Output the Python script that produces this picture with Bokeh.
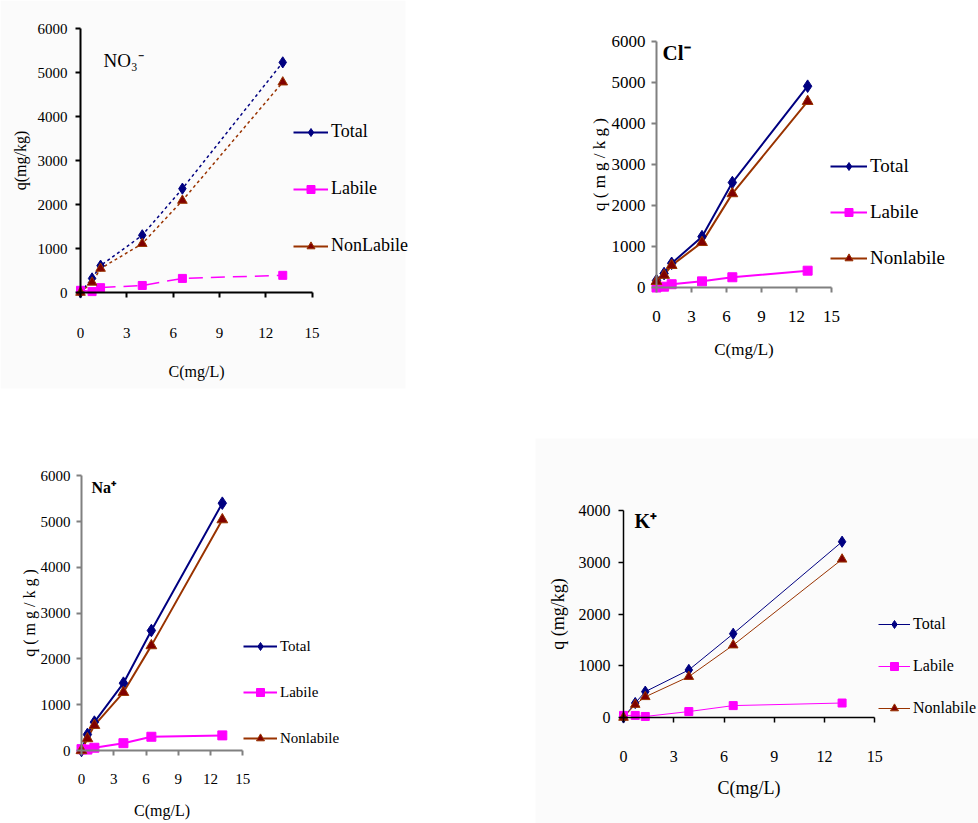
from bokeh.plotting import figure
from bokeh.models import (Range1d, FixedTicker, Legend, LegendItem, Label, BoxAnnotation)
from bokeh.layouts import column, row
from bokeh.embed import file_html
from bokeh.resources import INLINE

# ---------------- data ----------------
series_names = ["Total", "Labile", "Nonlabile"]
x_ticks = [0, 3, 6, 9, 12, 15]

no3_c = [0, 0.75, 1.3, 4.0, 6.6, 13.1]
no3_total = [0, 320, 610, 1300, 2360, 5230]
no3_labile = [50, 20, 110, 160, 320, 390]
no3_nonlabile = [0, 230, 545, 1110, 2090, 4780]
no3_legend = ["Total", "Labile", "NonLabile"]

cl_c = [0, 0.65, 1.3, 3.9, 6.5, 12.95]
cl_total = [170, 340, 590, 1240, 2560, 4910]
cl_labile = [0, 20, 80, 150, 250, 410]
cl_nonlabile = [150, 300, 540, 1100, 2290, 4540]

na_c = [0, 0.55, 1.2, 3.9, 6.5, 13.1]
na_total = [0, 350, 620, 1470, 2620, 5400]
na_labile = [30, 20, 60, 160, 300, 330]
na_nonlabile = [0, 260, 550, 1270, 2290, 5040]

k_c = [0, 0.7, 1.3, 3.9, 6.55, 13.05]
k_total = [0, 280, 500, 920, 1620, 3400]
k_labile = [40, 40, 20, 115, 230, 280]
k_nonlabile = [0, 250, 400, 790, 1400, 3060]

C_TOTAL = "#000080"
C_LABILE = "#FF00FF"
C_NONLAB = "#993300"
C_NONLAB_FILL = "#800000"
FONT = "Liberation Serif"


def panel(box, x0px, kx, y0py, ky, ymax, c, tot, lab, non, names, cfg):
    L, T, W, H = box
    xs = -(x0px - L) / kx
    xe = xs + W / kx
    ye = (y0py - T) / ky
    ys = ye - H / ky
    p = figure(width=W, height=H, output_backend="svg", toolbar_location=None,
               x_range=Range1d(xs, xe), y_range=Range1d(ys, ye),
               min_border=0, min_border_left=0, min_border_right=0,
               min_border_top=0, min_border_bottom=0)
    p.outline_line_color = None
    p.grid.visible = False
    p.background_fill_color = "white"
    p.border_fill_color = "white"
    if "bg" in cfg:
        bl, bt, br, bb = cfg["bg"]
        p.add_layout(BoxAnnotation(left=bl - L, right=br - L,
                                   bottom=(T + H) - bb, top=(T + H) - bt,
                                   left_units="screen", right_units="screen",
                                   top_units="screen", bottom_units="screen",
                                   fill_color="#fbfbfb", fill_alpha=1,
                                   line_color=None, level="underlay"))

    xa = p.xaxis[0]
    ya = p.yaxis[0]
    xa.fixed_location = 0
    ya.fixed_location = 0
    xa.bounds = (0, 15)
    ya.bounds = (0, ymax)
    xa.ticker = FixedTicker(ticks=x_ticks)
    ya.ticker = FixedTicker(ticks=list(range(0, ymax + 1, 1000)))
    for a in (xa, ya):
        a.axis_line_color = cfg["axis_color"]
        a.axis_line_width = cfg["axis_w"]
        a.major_tick_line_color = cfg["axis_color"]
        a.major_tick_line_width = cfg["axis_w"]
        a.major_tick_out = 5
        a.major_tick_in = 0
        a.minor_tick_out = 0
        a.minor_tick_in = 0
        a.major_label_text_font = FONT
        a.major_label_text_font_size = cfg["tick_fs"]
        a.major_label_text_color = "black"
        a.axis_label_text_font = FONT
        a.axis_label_text_font_style = "normal"
        a.axis_label_text_font_size = cfg["lab_fs"]
        a.axis_label_text_color = "black"
    xa.major_label_standoff = cfg["xstand"]
    ya.major_label_standoff = cfg["ystand"]
    xa.axis_label = "C(mg/L)"
    ya.axis_label = cfg["ylabel"]
    xa.axis_label_standoff = cfg["xlab_stand"]
    ya.axis_label_standoff = cfg["ylab_stand"]

    lw = cfg["lw"]
    ms = cfg["ms"]
    dash_t = cfg.get("dash_t", "solid")
    dash_l = cfg.get("dash_l", "solid")
    l1 = p.line(c, tot, line_color=C_TOTAL, line_width=lw, line_dash=dash_t)
    l2 = p.line(c, lab, line_color=C_LABILE, line_width=lw, line_dash=dash_l)
    l3 = p.line(c, non, line_color=C_NONLAB, line_width=lw, line_dash=dash_t)
    m1 = p.scatter(c, tot, marker="diamond", size=ms * 1.4, fill_color=C_TOTAL,
                   line_color=C_TOTAL)
    m2 = p.scatter(c, lab, marker="square", size=ms * 1.0, fill_color=C_LABILE,
                   line_color=C_LABILE)
    m3 = p.scatter(c, non, marker="triangle", size=ms * 1.2, fill_color=C_NONLAB_FILL,
                   line_color=C_NONLAB)
    if dash_t != "solid" or dash_l != "solid":
        # single-point solid lines: invisible in the plot, solid in the legend
        g1 = p.line(c[:1], tot[:1], line_color=C_TOTAL, line_width=lw + 0.5)
        g2 = p.line(c[:1], lab[:1], line_color=C_LABILE, line_width=lw + 0.5)
        g3 = p.line(c[:1], non[:1], line_color=C_NONLAB, line_width=lw + 0.5)
    else:
        g1, g2, g3 = l1, l2, l3

    leg = Legend(items=[LegendItem(label=names[0], renderers=[g1, m1]),
                        LegendItem(label=names[1], renderers=[g2, m2]),
                        LegendItem(label=names[2], renderers=[g3, m3])])
    lx0, ltop, lrow, gw = cfg["legend"]
    leg.glyph_width = gw
    leg.glyph_height = 20
    leg.label_height = 20
    leg.label_standoff = 3
    leg.spacing = int(round(lrow - 20))
    leg.padding = 0
    leg.margin = 0
    leg.border_line_color = None
    leg.background_fill_alpha = 0
    leg.label_text_font = FONT
    leg.label_text_font_size = cfg["leg_fs"]
    leg.label_text_color = "black"
    leg_h = 3 * 20 + 2 * leg.spacing
    leg.location = (lx0 - L, (T + H) - (ltop - 10 + leg_h))
    p.add_layout(leg, "center")

    tx, ty, ttext, tfs, tstyle = cfg["title"]
    p.add_layout(Label(x=tx - L, y=(T + H) - ty, x_units="screen", y_units="screen",
                       text=ttext, text_font=FONT, text_font_size=tfs,
                       text_font_style=tstyle, text_baseline="middle",
                       text_color="black"))
    return p


p1 = panel((0, 0, 480, 430), 80, 15.44, 292, 0.044, 6000,
           no3_c, no3_total, no3_labile, no3_nonlabile, no3_legend,
           dict(axis_color="black", axis_w=2, tick_fs="15px", lab_fs="16px",
                xstand=30, ystand=8, ylabel="q(mg/kg)", xlab_stand=22, ylab_stand=6,
                lw=1.5, ms=8, dash_t="3 3", dash_l="14 8",
                legend=(293, 134, 56, 35), leg_fs="18px",
                title=(103, 60, "NO\u2083\u207b", "19px", "normal"),
                bg=(0, 0, 405, 388)))

p2 = panel((480, 0, 498, 430), 656, 11.67, 287, 0.041, 6000,
           cl_c, cl_total, cl_labile, cl_nonlabile, series_names,
           dict(axis_color="#808080", axis_w=2, tick_fs="17px", lab_fs="17px",
                xstand=18, ystand=6, ylabel="q ( m g / k g )", xlab_stand=15, ylab_stand=0,
                lw=2, ms=9, legend=(830, 171, 43.5, 37), leg_fs="19px",
                title=(662, 52, "Cl\u207b", "21px", "bold")))

p3 = panel((0, 430, 480, 393), 81, 10.75, 750, 0.0458, 6000,
           na_c, na_total, na_labile, na_nonlabile, series_names,
           dict(axis_color="#808080", axis_w=2, tick_fs="15px", lab_fs="16px",
                xstand=18, ystand=6, ylabel="q ( m g / k g )", xlab_stand=15, ylab_stand=0,
                lw=2, ms=9, legend=(243, 646, 46.5, 34), leg_fs="15px",
                title=(91, 487, "Na\u207a", "16px", "bold")))

p4 = panel((480, 430, 498, 393), 623, 16.75, 717, 0.0517, 4000,
           k_c, k_total, k_labile, k_nonlabile, series_names,
           dict(axis_color="black", axis_w=1.5, tick_fs="16px", lab_fs="18px",
                xstand=28, ystand=8, ylabel="q (mg/kg)", xlab_stand=13, ylab_stand=8,
                lw=1, ms=8, legend=(878, 624, 42.5, 32), leg_fs="16px",
                title=(634, 520, "K\u207a", "20px", "bold"),
                bg=(535, 438, 978, 823)))

layout = column(row(p1, p2), row(p3, p4))
open("out.html", "w").write(file_html(layout, INLINE))
